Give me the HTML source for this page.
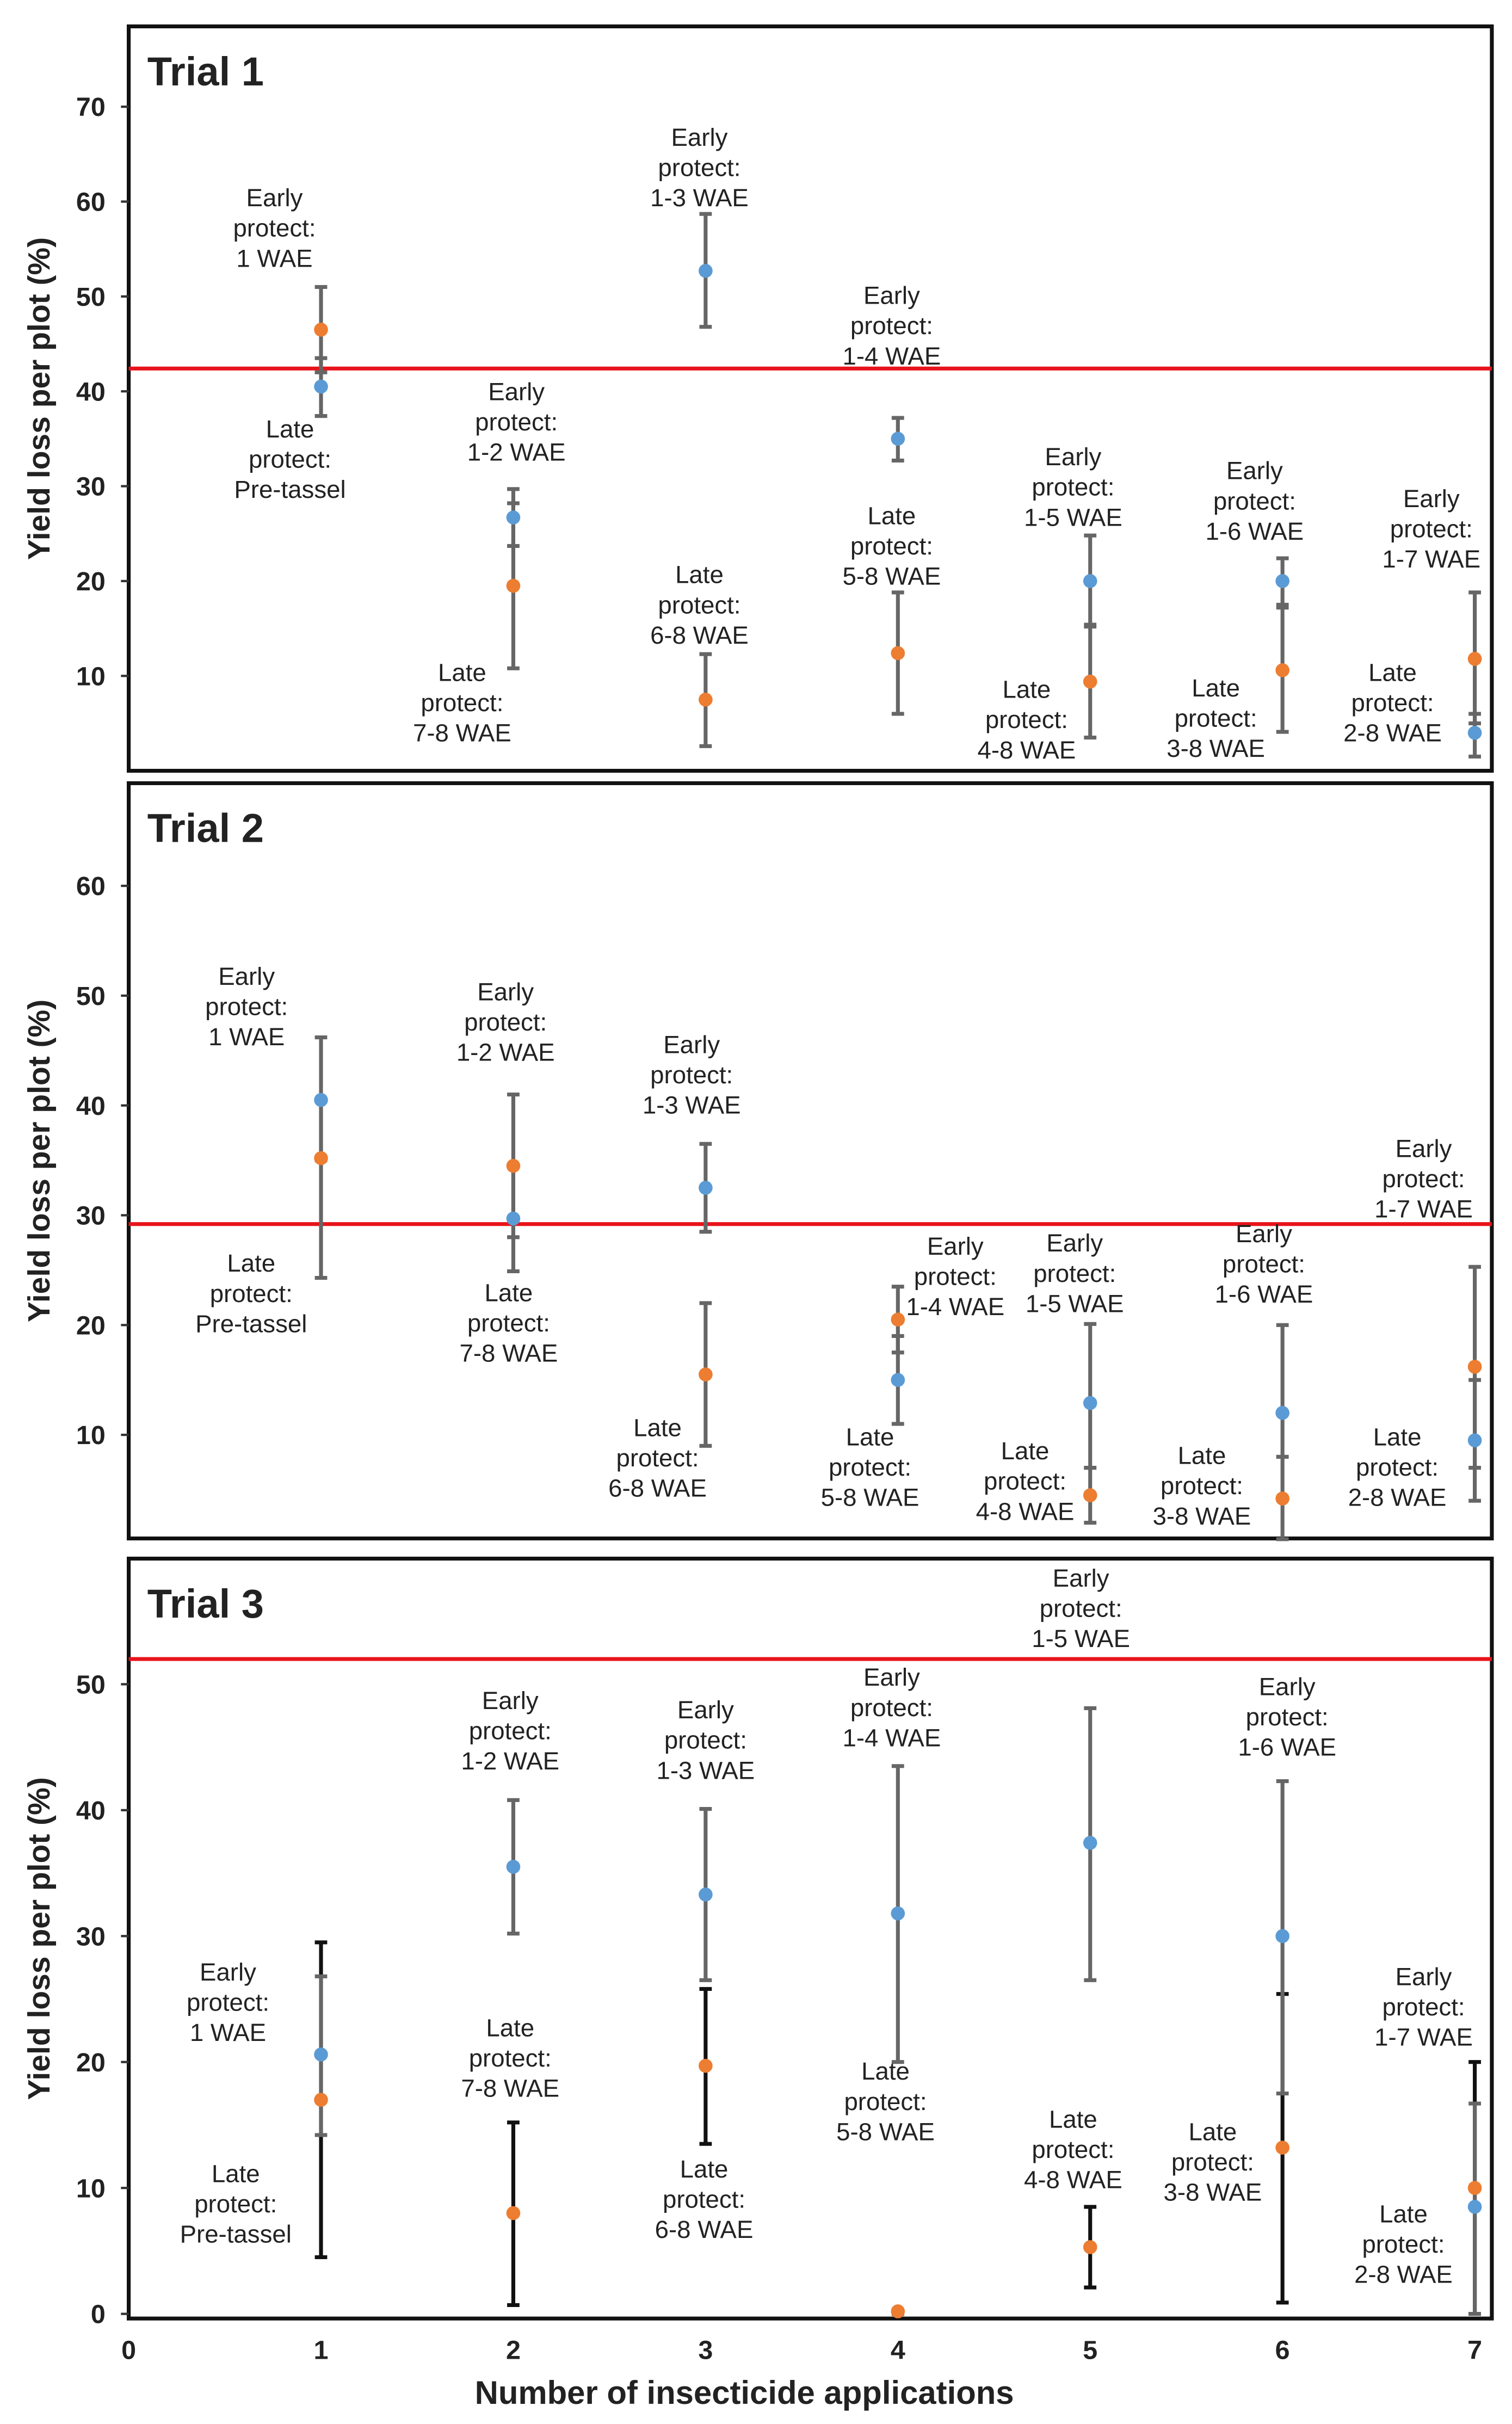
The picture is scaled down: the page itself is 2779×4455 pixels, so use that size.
<!DOCTYPE html>
<html><head><meta charset="utf-8"><style>
html,body{margin:0;padding:0;background:#fff}
svg{display:block}
text{font-family:"Liberation Sans",Arial,sans-serif;fill:#222}
</style></head><body>
<svg id="chart" width="2779" height="4455" viewBox="0 0 975 1563" xmlns="http://www.w3.org/2000/svg">
<g id="root"></g>
</svg>
<script>
// ---- data ----
const categories = [1,2,3,4,5,6,7];
const t1Early = [40.5,26.7,52.7,35,20,20,4];
const t1EarlyLo = [37.4,23.7,46.8,32.7,15.2,17.5,1.5];
const t1EarlyHi = [43.5,29.7,58.7,37.2,24.8,22.4,6];
const t1Late = [46.5,19.5,7.5,12.4,9.4,10.6,11.8];
const t1LateLo = [42,10.8,2.6,6,3.5,4.1,5];
const t1LateHi = [51,28.2,12.3,18.8,15.4,17.2,18.8];
const t1Threshold = 42.4;
const t2Early = [40.5,29.7,32.5,15,12.9,12,9.5];
const t2EarlyLo = [35,24.9,28.5,11,7,8,4];
const t2EarlyHi = [46.2,34.5,36.5,19,20.1,20,15];
const t2Late = [35.2,34.5,15.5,20.5,4.5,4.2,16.2];
const t2LateLo = [24.3,28,9,17.5,2,0.5,7];
const t2LateHi = [40.5,41,22,23.5,7,8,25.3];
const t2Threshold = 29.2;
const t3Early = [20.6,35.5,33.3,31.8,37.4,30,8.5];
const t3EarlyLo = [14.2,30.2,26.5,20,26.5,17.5,0];
const t3EarlyHi = [26.8,40.8,40.1,43.5,48.1,42.3,16.7];
const t3Late = [17,8,19.7,0.2,5.3,13.2,10];
const t3LateLo = [4.5,0.7,13.5,0,2.1,0.9,0];
const t3LateHi = [29.5,15.2,25.8,0.2,8.5,25.4,20];
const t3Threshold = 52;
const t1Ticks = [10,20,30,40,50,60,70];
const t2Ticks = [10,20,30,40,50,60];
const t3Ticks = [0,10,20,30,40,50];
const xTicks = [0,1,2,3,4,5,6,7];

const NS="http://www.w3.org/2000/svg";
const root=document.getElementById('root');
function mk(tag,attrs,parent){const e=document.createElementNS(NS,tag);for(const k in attrs)e.setAttribute(k,attrs[k]);(parent||root).appendChild(e);return e;}
const xScale=v=>83+v*124;

const panels=[
 {name:'trial-1',title:'Trial 1',top:17,bot:497,y0:497,ppu:6.117,ticks:t1Ticks,e:t1Early,el:t1EarlyLo,eh:t1EarlyHi,l:t1Late,ll:t1LateLo,lh:t1LateHi,th:t1Threshold,black:false,
  ann:[[177,127,'Early','1 WAE'],[187,276,'Late','Pre-tassel'],[333,252,'Early','1-2 WAE'],[298,433,'Late','7-8 WAE'],[451,88,'Early','1-3 WAE'],[451,370,'Late','6-8 WAE'],[575,190,'Early','1-4 WAE'],[575,332,'Late','5-8 WAE'],[692,294,'Early','1-5 WAE'],[662,444,'Late','4-8 WAE'],[809,303,'Early','1-6 WAE'],[784,443,'Late','3-8 WAE'],[923,321,'Early','1-7 WAE'],[898,433,'Late','2-8 WAE']]},
 {name:'trial-2',title:'Trial 2',top:505,bot:992,y0:996,ppu:7.08,ticks:t2Ticks,e:t2Early,el:t2EarlyLo,eh:t2EarlyHi,l:t2Late,ll:t2LateLo,lh:t2LateHi,th:t2Threshold,black:false,
  ann:[[159,629,'Early','1 WAE'],[162,814,'Late','Pre-tassel'],[326,639,'Early','1-2 WAE'],[328,833,'Late','7-8 WAE'],[446,673,'Early','1-3 WAE'],[424,920,'Late','6-8 WAE'],[616,803,'Early','1-4 WAE'],[561,926,'Late','5-8 WAE'],[693,801,'Early','1-5 WAE'],[661,935,'Late','4-8 WAE'],[815,795,'Early','1-6 WAE'],[775,938,'Late','3-8 WAE'],[918,740,'Early','1-7 WAE'],[901,926,'Late','2-8 WAE']]},
 {name:'trial-3',title:'Trial 3',top:1005,bot:1495,y0:1492,ppu:8.12,ticks:t3Ticks,e:t3Early,el:t3EarlyLo,eh:t3EarlyHi,l:t3Late,ll:t3LateLo,lh:t3LateHi,th:t3Threshold,black:true,
  ann:[[147,1271,'Early','1 WAE'],[152,1401,'Late','Pre-tassel'],[329,1096,'Early','1-2 WAE'],[329,1307,'Late','7-8 WAE'],[455,1102,'Early','1-3 WAE'],[454,1398,'Late','6-8 WAE'],[575,1081,'Early','1-4 WAE'],[571,1335,'Late','5-8 WAE'],[697,1017,'Early','1-5 WAE'],[692,1366,'Late','4-8 WAE'],[830,1087,'Early','1-6 WAE'],[782,1374,'Late','3-8 WAE'],[918,1274,'Early','1-7 WAE'],[905,1427,'Late','2-8 WAE']]}
];

panels.forEach(p=>{
  const g=mk('g',{});
  
  
  const ys=v=>p.y0-v*p.ppu;
  const box=mk('rect',{x:83,y:p.top,width:879,height:p.bot-p.top,fill:'none',stroke:'#111','stroke-width':2.5},g);
  
  
  const t=mk('text',{x:95,y:p.top+38,'font-size':26,'font-weight':'bold',fill:'#111'},g);
  t.textContent=p.title;
  
  
  const yt=mk('text',{x:0,y:0,'font-size':20,'font-weight':'bold','text-anchor':'middle',transform:`translate(32,${(p.top+p.bot)/2}) rotate(-90)`},g);
  yt.textContent='Yield loss per plot (%)';
  
  
  p.ticks.forEach(v=>{
    const tl=mk('text',{x:68,y:ys(v)+6,'font-size':17,'font-weight':'bold','text-anchor':'end',fill:'#333'},g);
    tl.textContent=v;
    
    
    const tk=mk('line',{x1:78,x2:83,y1:ys(v),y2:ys(v),stroke:'#333','stroke-width':1.5},g);
    
    
  });
  const rl=mk('line',{x1:83,x2:962,y1:ys(p.th),y2:ys(p.th),stroke:'#e8141b','stroke-width':2.5},g);
  
  
  function bar(x,lo,hi,color,name){
    const b=mk('g',{},g);
    
    
    mk('line',{x1:x,x2:x,y1:ys(lo),y2:ys(hi),stroke:color,'stroke-width':2.5},b);
    mk('line',{x1:x-4,x2:x+4,y1:ys(lo),y2:ys(lo),stroke:color,'stroke-width':2.5},b);
    mk('line',{x1:x-4,x2:x+4,y1:ys(hi),y2:ys(hi),stroke:color,'stroke-width':2.5},b);
  }
  categories.forEach((c,i)=>{
    const x=xScale(c);
    bar(x,p.ll[i],p.lh[i],p.black?'#111':'#666','late-error-bar');
    bar(x,p.el[i],p.eh[i],'#666','early-error-bar');
  });
  categories.forEach((c,i)=>{
    const x=xScale(c);
    const d1=mk('circle',{cx:x,cy:ys(p.l[i]),r:4.5,fill:'#ed7d31'},g);
    
    
    const d2=mk('circle',{cx:x,cy:ys(p.e[i]),r:4.5,fill:'#5b9bd5'},g);
    
    
  });
  p.ann.forEach(a=>{
    const tx=mk('text',{x:a[0],y:a[1]+6,'font-size':16,'text-anchor':'middle',fill:'#222'},g);
    
    
    [a[2],'protect:',a[3]].forEach((s,k)=>{
      const ts=mk('tspan',{x:a[0],dy:k?19.5:0},tx);ts.textContent=s;
    });
  });
});
xTicks.forEach(v=>{
  const tl=mk('text',{x:xScale(v),y:1521,'font-size':17,'font-weight':'bold','text-anchor':'middle',fill:'#333'});
  tl.textContent=v;
  
  
});
const xt=mk('text',{x:480,y:1550,'font-size':21,'font-weight':'bold','text-anchor':'middle',fill:'#111'});
xt.textContent='Number of insecticide applications';


</script>
</body></html>
